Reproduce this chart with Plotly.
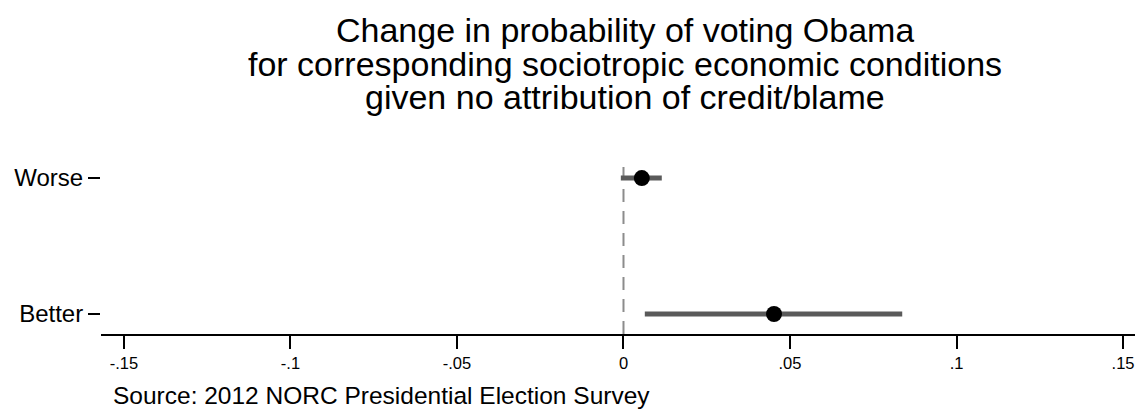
import plotly.graph_objects as go

# Estimated change in probability of voting Obama, with 95% intervals
categories = ["Better", "Worse"]
estimates = [0.0452, 0.0055]
ci_low = [0.0064, -0.0008]
ci_high = [0.0837, 0.0115]

x_tick_values = [-0.15, -0.10, -0.05, 0.0, 0.05, 0.10, 0.15]
x_tick_labels = ["-.15", "-.1", "-.05", "0", ".05", ".1", ".15"]
x_range = [-0.1569, 0.1536]
reference_x = 0.0

title_lines = [
    "Change in probability of voting Obama",
    "for corresponding sociotropic economic conditions",
    "given no attribution of credit/blame",
]
source_note = "Source: 2012 NORC Presidential Election Survey"

W, H = 1135, 412
M_L, M_R, M_T, M_B = 101, 0, 159, 78
plot_h = H - M_T - M_B
plot_w = W - M_L - M_R


def paper_y(py):
    return (H - M_B - py) / plot_h


def paper_x(px):
    return (px - M_L) / plot_w


FONT = "Liberation Sans, Arial, Helvetica, sans-serif"

fig = go.Figure()

fig.add_trace(
    go.Scatter(
        x=estimates,
        y=categories,
        mode="markers",
        marker=dict(color="black", size=16, line=dict(width=0)),
        error_x=dict(
            type="data",
            symmetric=False,
            array=[h - e for h, e in zip(ci_high, estimates)],
            arrayminus=[e - l for e, l in zip(estimates, ci_low)],
            thickness=5,
            width=0,
            color="#5a5a5a",
        ),
        showlegend=False,
        hoverinfo="skip",
    )
)

# Dashed reference line at zero effect
fig.add_shape(
    type="line",
    xref="x",
    yref="paper",
    x0=reference_x,
    x1=reference_x,
    y0=0,
    y1=1,
    line=dict(color="#8c8c8c", width=2, dash="13px,9px"),
    layer="below",
)

# Title drawn line by line for tight line spacing
title_baselines = [43, 77, 110]
for text, base in zip(title_lines, title_baselines):
    fig.add_annotation(
        text=text,
        xref="paper",
        yref="paper",
        x=paper_x(625),
        y=paper_y(base + 7),
        xanchor="center",
        yanchor="bottom",
        valign="bottom",
        height=33,
        borderpad=0,
        showarrow=False,
        font=dict(family=FONT, size=34, color="black"),
    )

fig.add_annotation(
    text=source_note,
    xref="paper",
    yref="paper",
    x=paper_x(111),
    y=paper_y(395),
    xanchor="left",
    yanchor="middle",
    showarrow=False,
    font=dict(family=FONT, size=24.5, color="black"),
)

fig.update_layout(
    width=W,
    height=H,
    margin=dict(l=M_L, r=M_R, t=M_T, b=M_B, pad=0),
    paper_bgcolor="white",
    plot_bgcolor="white",
    font=dict(family=FONT, color="black"),
    xaxis=dict(
        range=x_range,
        tickmode="array",
        tickvals=x_tick_values,
        ticktext=x_tick_labels,
        tickfont=dict(size=16.5),
        ticklabeloverflow="allow",
        ticks="outside",
        ticklen=13,
        tickwidth=1.5,
        tickcolor="black",
        showline=True,
        linecolor="black",
        linewidth=1.5,
        showgrid=False,
        zeroline=False,
    ),
    yaxis=dict(
        type="category",
        categoryorder="array",
        categoryarray=categories,
        range=[-0.147, 1.14],
        tickfont=dict(size=24),
        ticks="outside",
        ticklen=12,
        tickwidth=1.5,
        tickcolor="black",
        showline=False,
        showgrid=False,
        zeroline=False,
    ),
)

fig.write_html("out.html")
